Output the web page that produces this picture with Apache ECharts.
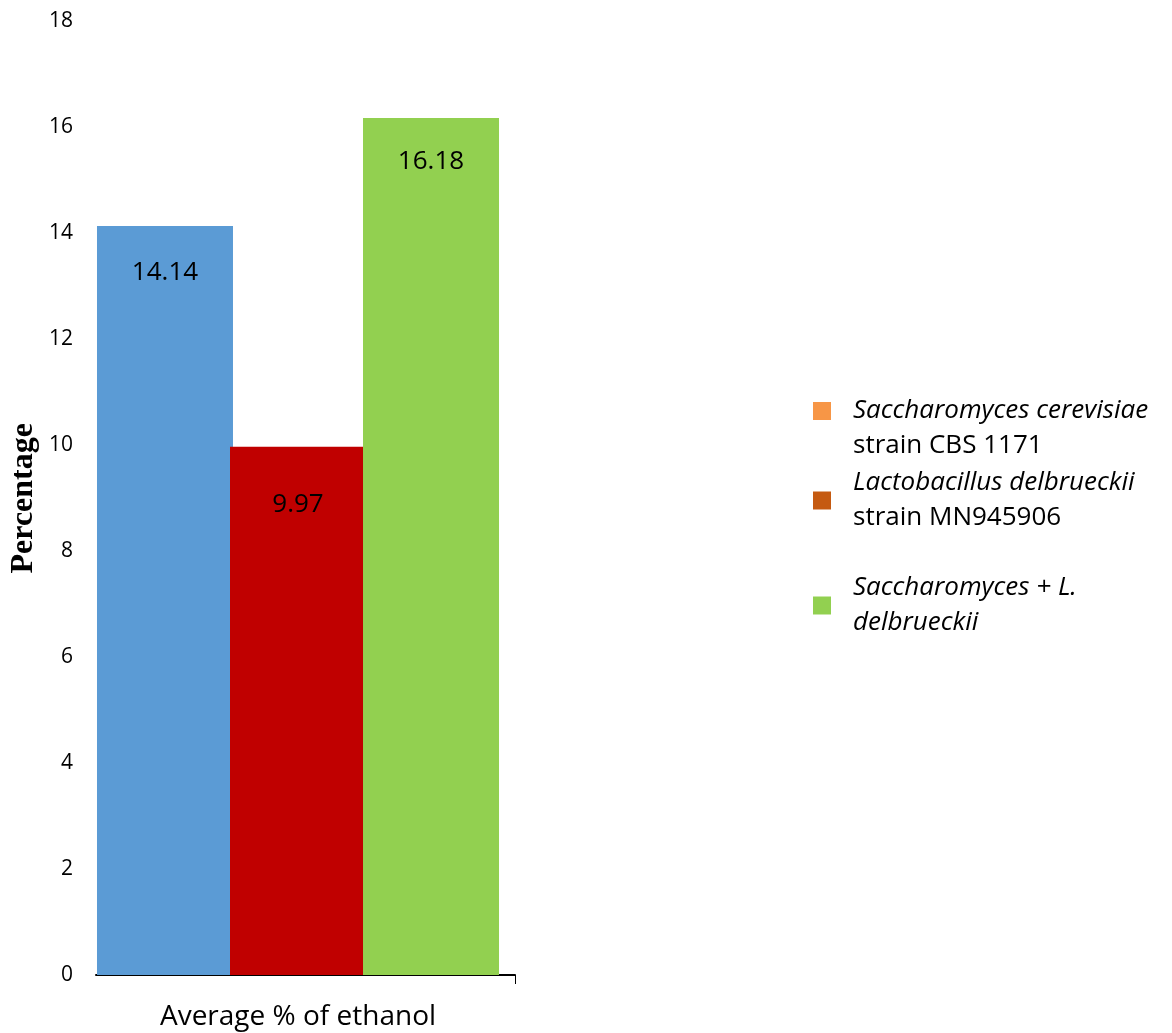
<!DOCTYPE html>
<html>
<head>
<meta charset="utf-8">
<style>
  html, body { margin: 0; padding: 0; background: #fff; }
  #chart { width: 1172px; height: 1033px; }
</style>
<script src="https://cdn.jsdelivr.net/npm/echarts@6/dist/echarts.min.js"></script>
</head>
<body>
<div id="chart"></div>
<script>
// Ethanol yield per culture
const categories = ['Average % of ethanol'];
const strainNames = [
  'Saccharomyces cerevisiae strain CBS 1171',
  'Lactobacillus delbrueckii strain MN945906',
  'Saccharomyces + L. delbrueckii'
];
const cerevisiaeValues = [14.14];
const delbrueckiiValues = [9.97];
const coCultureValues = [16.18];
const yTicks = [0, 2, 4, 6, 8, 10, 12, 14, 16, 18];

const barColors = ['#5B9BD5', '#C00000', '#92D050'];
const legendColors = ['#F79646', '#C55A11', '#92D050'];
const labelOffsets = [47, 58, 44];

const legendText = {
  [strainNames[0]]: '{i|Saccharomyces cerevisiae}\n{n|strain CBS 1171}',
  [strainNames[1]]: '{i|Lactobacillus delbrueckii}\n{n|strain MN945906}',
  [strainNames[2]]: '{i|Saccharomyces + L.}\n{i|delbrueckii}'
};

const sans = '"Open Sans", "Noto Sans", sans-serif';
const richText = {
  i: { fontFamily: sans, fontStyle: 'italic', fontSize: 26, lineHeight: 35, color: '#000' },
  n: { fontFamily: sans, fontSize: 26, lineHeight: 35, color: '#000' }
};

function makeLegend(idx, top, padTop) {
  return {
    show: true,
    left: 813,
    top: top,
    padding: 0,
    orient: 'vertical',
    icon: 'rect',
    itemWidth: 18,
    itemHeight: 18,
    selectedMode: false,
    data: [{ name: strainNames[idx], itemStyle: { color: legendColors[idx] } }],
    formatter: name => legendText[name],
    textStyle: { padding: [padTop, 0, 0, 17], rich: richText }
  };
}

const seriesValues = [cerevisiaeValues, delbrueckiiValues, coCultureValues];

const chart = echarts.init(document.getElementById('chart'), null, { renderer: 'canvas' });
chart.setOption({
  animation: false,
  backgroundColor: '#fff',
  grid: [
    { left: 96, width: 404, top: 21.5, bottom: 58 },
    { left: 96, width: 419, top: 21.5, bottom: 58 }
  ],
  legend: [
    makeLegend(0, 398, 35),
    makeLegend(1, 470, 0),
    makeLegend(2, 575, 0)
  ],
  xAxis: [
    {
      type: 'category',
      gridIndex: 0,
      data: categories,
      axisLine: { show: false },
      axisTick: { show: false },
      axisLabel: { fontFamily: sans, fontSize: 28, color: '#000', margin: 28 }
    },
    {
      type: 'value',
      gridIndex: 1,
      min: 0,
      max: 1,
      interval: 1,
      axisLine: { show: true, lineStyle: { color: '#000', width: 2 } },
      axisTick: { show: true, customValues: [1], length: 9, lineStyle: { color: '#000', width: 1 } },
      axisLabel: { show: false },
      splitLine: { show: false }
    }
  ],
  yAxis: [
    {
      type: 'value',
      gridIndex: 0,
      min: yTicks[0],
      max: yTicks[yTicks.length - 1],
      interval: 2,
      axisLine: { show: false },
      axisTick: { show: false },
      splitLine: { show: false },
      axisLabel: { fontFamily: sans, fontSize: 21, color: '#000', margin: 23 },
      name: 'Percentage',
      nameLocation: 'middle',
      nameRotate: 90,
      nameGap: 56,
      nameTextStyle: { fontFamily: '"Liberation Serif", "DejaVu Serif", serif', fontWeight: 'bold', fontSize: 32, color: '#000' }
    },
    {
      type: 'value',
      gridIndex: 1,
      min: 0,
      max: 1,
      show: false
    }
  ],
  series: seriesValues.map((vals, k) => ({
    name: strainNames[k],
    type: 'bar',
    xAxisIndex: 0,
    yAxisIndex: 0,
    data: vals,
    barWidth: 136,
    barGap: '-2.2%',
    itemStyle: { color: barColors[k] },
    label: {
      show: true,
      position: ['50%', labelOffsets[k]],
      align: 'center',
      verticalAlign: 'middle',
      fontFamily: sans,
      fontSize: 26,
      color: '#000',
      formatter: p => p.value.toFixed(2)
    }
  }))
});
</script>
</body>
</html>
